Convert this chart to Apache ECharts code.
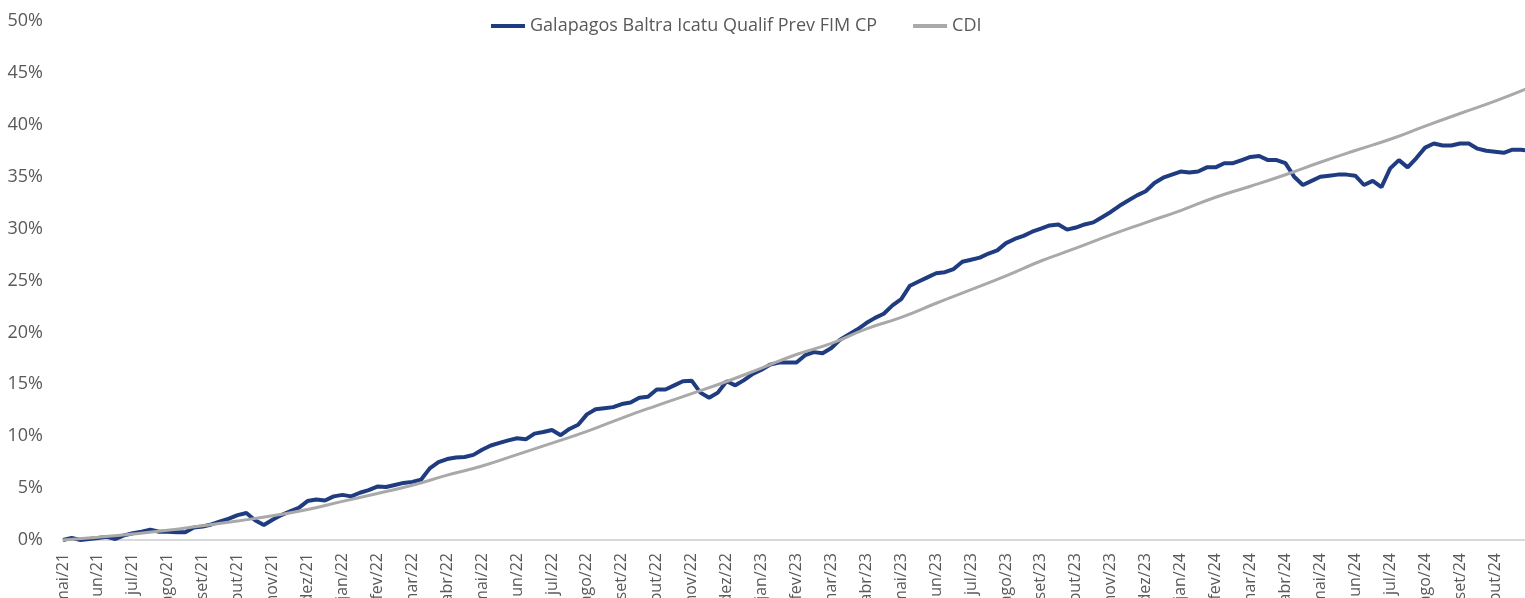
<!DOCTYPE html>
<html>
<head>
<meta charset="utf-8">
<title>Galapagos Baltra Icatu Qualif Prev FIM CP x CDI</title>
<script src="https://cdn.jsdelivr.net/npm/echarts@6/dist/echarts.min.js"></script>
<style>
  html, body { margin: 0; padding: 0; background: #fff; }
  #chart { width: 1525px; height: 598px; }
</style>
</head>
<body>
<div id="chart"></div>
<script>
// rótulos mensais do eixo x (um por mês, a partir de mai/21)
const months = [
  'mai/21', 'jun/21', 'jul/21', 'ago/21', 'set/21', 'out/21', 'nov/21', 'dez/21',
  'jan/22', 'fev/22', 'mar/22', 'abr/22', 'mai/22', 'jun/22', 'jul/22', 'ago/22',
  'set/22', 'out/22', 'nov/22', 'dez/22', 'jan/23', 'fev/23', 'mar/23', 'abr/23',
  'mai/23', 'jun/23', 'jul/23', 'ago/23', 'set/23', 'out/23', 'nov/23', 'dez/23',
  'jan/24', 'fev/24', 'mar/24', 'abr/24', 'mai/24', 'jun/24', 'jul/24', 'ago/24',
  'set/24', 'out/24'
]

// fundo: rentabilidade acumulada (%), um ponto a cada ~1/4 de mês
const fundStep = 0.25
const fund = [
  0.0, 0.2, 0.0, 0.1, 0.2, 0.3, 0.1, 0.45, 0.65, 0.8,
  1.0, 0.8, 0.8, 0.75, 0.75, 1.2, 1.3, 1.5, 1.8, 2.05,
  2.4, 2.6, 1.9, 1.45, 1.95, 2.4, 2.75, 3.1, 3.75, 3.9,
  3.8, 4.2, 4.35, 4.2, 4.55, 4.8, 5.15, 5.1, 5.3, 5.5,
  5.6, 5.8, 6.9, 7.5, 7.8, 7.95, 8.0, 8.2, 8.7, 9.1,
  9.35, 9.6, 9.8, 9.7, 10.25, 10.4, 10.6, 10.1, 10.7, 11.1,
  12.1, 12.6, 12.7, 12.8, 13.1, 13.25, 13.7, 13.8, 14.5, 14.5,
  14.9, 15.3, 15.35, 14.2, 13.7, 14.2, 15.3, 14.9, 15.4, 16.0,
  16.4, 16.9, 17.1, 17.1, 17.1, 17.8, 18.1, 18.0, 18.5, 19.3,
  19.8, 20.3, 20.9, 21.4, 21.8, 22.6, 23.2, 24.5, 24.9, 25.3,
  25.7, 25.8, 26.1, 26.8, 27.0, 27.2, 27.6, 27.9, 28.6, 29.0,
  29.3, 29.7, 30.0, 30.3, 30.4, 29.9, 30.1, 30.4, 30.6, 31.1,
  31.6, 32.2, 32.7, 33.2, 33.6, 34.4, 34.9, 35.2, 35.5, 35.4,
  35.5, 35.9, 35.9, 36.3, 36.3, 36.6, 36.9, 37.0, 36.6, 36.6,
  36.3, 35.0, 34.2, 34.6, 35.0, 35.1, 35.2, 35.2, 35.1, 34.2,
  34.6, 34.0, 35.8, 36.6, 35.9, 36.8, 37.8, 38.2, 38.0, 38.0,
  38.2, 38.2, 37.7, 37.5, 37.4, 37.3, 37.6, 37.6, 37.5
]

// CDI acumulado (%), no início de cada mês
const cdi = [
  0, 0.27, 0.58, 0.94, 1.38, 1.83, 2.33, 2.93, 3.72, 4.48,
  5.27, 6.25, 7.13, 8.23, 9.33, 10.46, 11.75, 12.95, 14.10, 15.27,
  16.56, 17.87, 18.95, 20.34, 21.45, 22.81, 24.12, 25.45, 26.88, 28.11,
  29.39, 30.58, 31.74, 33.02, 34.08, 35.19, 36.39, 37.52, 38.61, 39.87,
  41.09, 42.28, 43.61
]

const yTicks = { min: 0, max: 50, interval: 5 }
const xEnd = 41.86   // último dia da série, em meses desde mai/21

const fundData = fund.map((v, i) => [i * fundStep, v])
const cdiData = cdi.map((v, i) => [i, v])

const font = 'Open Sans'
const textColor = '#595959'

const chart = echarts.init(document.getElementById('chart'))

const option = {
  animation: false,
  textStyle: { fontFamily: font },
  legend: {
    left: 491,
    top: 17,
    padding: 0,
    icon: 'rect',
    itemWidth: 34,
    itemHeight: 4,
    itemGap: 36,
    textStyle: { fontFamily: font, fontSize: 18, color: textColor },
    data: ['Galapagos Baltra Icatu Qualif Prev FIM CP', 'CDI']
  },
  grid: {
    left: 63,
    right: 0,
    top: 21,
    bottom: 58,
    containLabel: false,
    outerBoundsMode: 'none'
  },
  xAxis: {
    type: 'value',
    min: 0,
    max: xEnd,
    interval: 1,
    splitLine: { show: false },
    axisTick: { show: false },
    axisLine: { show: true, onZero: true, lineStyle: { color: '#d9d9d9', width: 2 } },
    axisLabel: {
      rotate: 90,
      margin: 13,
      showMaxLabel: false,
      fontFamily: font,
      fontSize: 16,
      color: textColor,
      formatter: v => (Number.isInteger(v) && months[v]) ? months[v] : ''
    }
  },
  yAxis: {
    type: 'value',
    min: yTicks.min,
    max: yTicks.max,
    interval: yTicks.interval,
    splitLine: { show: false },
    axisLine: { show: false },
    axisTick: { show: false },
    axisLabel: {
      margin: 20,
      fontFamily: font,
      fontSize: 18,
      color: textColor,
      formatter: '{value}%'
    }
  },
  series: [
    {
      name: 'Galapagos Baltra Icatu Qualif Prev FIM CP',
      type: 'line',
      data: fundData,
      symbol: 'none',
      clip: true,
      itemStyle: { color: '#1f3c80' },
      lineStyle: { color: '#1f3c80', width: 4 }
    },
    {
      name: 'CDI',
      type: 'line',
      data: cdiData,
      symbol: 'none',
      smooth: true,
      clip: true,
      itemStyle: { color: '#a9a9a9' },
      lineStyle: { color: '#a9a9a9', width: 3 }
    }
  ]
}

chart.setOption(option)
</script>
</body>
</html>
